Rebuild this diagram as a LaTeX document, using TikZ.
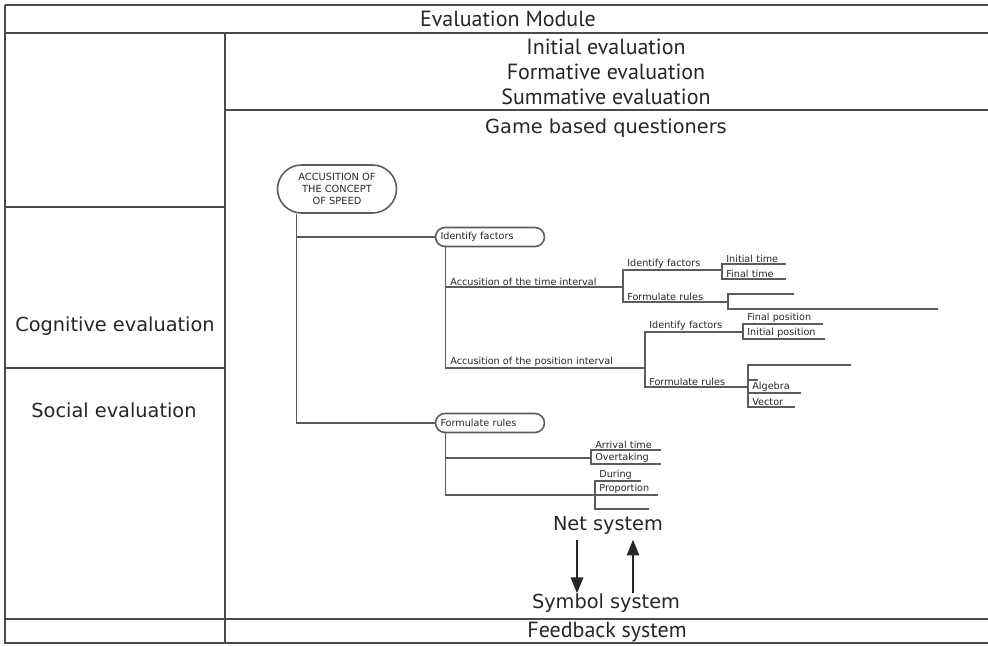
\documentclass[tikz,border=0pt]{standalone}
\usepackage{fontspec}
\setmainfont{DejaVu Sans}
\newfontfamily\HeadFamily{PT Sans}
\usetikzlibrary{arrows.meta,calc}
\definecolor{TableClr}{HTML}{4A4A4A}
\definecolor{BranchClr}{HTML}{5C5C5C}
\definecolor{TextClr}{HTML}{262626}
\newcommand{\LeafFnt}{\fontsize{5.5}{6.5}\selectfont}
\newcommand{\RootFnt}{\fontsize{5.6}{6.8}\selectfont}
\newcommand{\SideFnt}{\fontsize{11}{13}\selectfont}
\newcommand{\HeadFnt}{\HeadFamily\fontsize{12.5}{14.2}\selectfont}

\begin{document}
\begin{tikzpicture}[x=0.02cm,y=-0.02cm,
  rule/.style={draw=TableClr,line width=1.1pt},
  branch/.style={draw=BranchClr,line width=0.6pt},
  central/.style={draw=BranchClr,line width=0.9pt,rounded corners=0.48cm,minimum width=2.38cm,minimum height=0.96cm,inner sep=0pt,align=center,font=\RootFnt,text=TextClr},
  topic/.style={draw=BranchClr,line width=0.9pt,rounded corners=0.19cm,minimum height=0.38cm,inner xsep=0.1cm,inner ysep=0pt,text width=1.98cm,align=left,font=\LeafFnt,text=TextClr},
  leaf/.style={anchor=south west,inner xsep=0.08cm,inner ysep=0.5pt,text width=#1,align=left,font=\LeafFnt,text=TextClr},
  side/.style={font=\SideFnt,text=TextClr,inner sep=0pt},
  head/.style={font=\HeadFnt,text=TextClr,inner sep=0pt},
  flow/.style={draw=TextClr,line width=1.2pt,-{Triangle[width=7pt,length=9pt]}}]
\useasboundingbox (0,0) rectangle (988,646);

% table frame
\draw[rule] (5,5) -- (988,5);
\draw[rule] (5,5) -- (5,643) -- (988,643);
\draw[rule] (5,33) -- (988,33);
\draw[rule] (225,33) -- (225,643);
\draw[rule] (225,110) -- (988,110);
\draw[rule] (5,207) -- (225,207);
\draw[rule] (5,368) -- (225,368);
\draw[rule] (5,619) -- (988,619);

% table texts
\node[head] (module) at (508,19) {Evaluation Module};
\node[head,align=center] (stages) at (606,72) {Initial evaluation\\Formative evaluation\\Summative evaluation};
\node[side] (game) at (606,128) {Game based questioners};
\node[side] (cog) at (115,326) {Cognitive evaluation};
\node[side] (soc) at (114,410) {Social evaluation};
\node[side] (net) at (608,525) {Net system};
\node[side] (sym) at (606,603) {Symbol system};
\node[head] (feed) at (607,632) {Feedback system};

\draw[flow,shorten <=3pt] ([xshift=-0.62cm]net.south) -- ([xshift=-0.62cm]net.south |- sym.north);
\draw[flow,shorten >=3pt] ([xshift=0.5cm]net.south |- sym.north) -- ([xshift=0.5cm]net.south);

% mind map
\node[central] (speed) at (337,189) {ACCUSITION OF\\THE CONCEPT\\OF SPEED};
\node[topic] (idf) at (490,237) {Identify factors};
\node[topic] (frm) at (490,423) {Formulate rules};

\node[leaf=3.32cm] (ti) at (446,287) {Accusition of the time interval};
\node[leaf=1.58cm] (tif) at (623,270) {Identify factors};
\node[leaf=1.10cm] (it) at (722,264) {Initial time};
\node[leaf=1.10cm] (ft) at (722,279) {Final time};
\node[leaf=1.68cm] (tfr) at (623,302) {Formulate rules};
\node[leaf=1.14cm] (tb1) at (728,294) {};
\node[leaf=4.02cm] (tb2) at (728,309) {};

\node[leaf=3.78cm] (pi) at (446,368) {Accusition of the position interval};
\node[leaf=1.54cm] (pif) at (645,332) {Identify factors};
\node[leaf=1.42cm] (fp) at (743,324) {Final position};
\node[leaf=1.46cm] (ip) at (743,339) {Initial position};
\node[leaf=1.88cm] (pfr) at (645,387) {Formulate rules};
\node[leaf=1.88cm] (pb) at (748,365) {};
\node[leaf=0.02cm] (ps) at (748,380) {};
\node[leaf=0.88cm] (alg) at (748,393) {Algebra};
\node[leaf=0.76cm] (vec) at (748,407) {Vector};

\node[leaf=2.74cm] (fb1) at (446,458) {};
\node[leaf=1.22cm] (arr) at (591,450) {Arrival time};
\node[leaf=1.22cm] (ovt) at (591,464) {Overtaking};
\node[leaf=2.82cm] (fb2) at (446,495) {};
\node[leaf=0.74cm] (dur) at (595,481) {During};
\node[leaf=1.08cm] (pro) at (595,495) {Proportion};
\node[leaf=0.90cm] (fb3) at (595,509) {};

\draw[branch] ($(speed.south west)+(20,0)$) |- (idf.west);
\draw[branch] ($(speed.south west)+(20,0)$) |- (frm.west);
\draw[branch] ($(idf.south west)+(11,0)$) |- (ti.south west) -- (ti.south east);
\draw[branch] ($(idf.south west)+(11,0)$) |- (pi.south west) -- (pi.south east);
\draw[branch] ($(frm.south west)+(11,0)$) |- (fb1.south west) -- (fb1.south east);
\draw[branch] ($(frm.south west)+(11,0)$) |- (fb2.south west) -- (fb2.south east);

\foreach \p/\c in {ti/tif,ti/tfr,tif/it,tif/ft,tfr/tb1,tfr/tb2,
                   pi/pif,pi/pfr,pif/fp,pif/ip,pfr/pb,pfr/ps,pfr/alg,pfr/vec,
                   fb1/arr,fb1/ovt,fb2/dur,fb2/pro,fb2/fb3}
  \draw[branch] (\p.south east) -| (\c.south west) -- (\c.south east);

\end{tikzpicture}
\end{document}
